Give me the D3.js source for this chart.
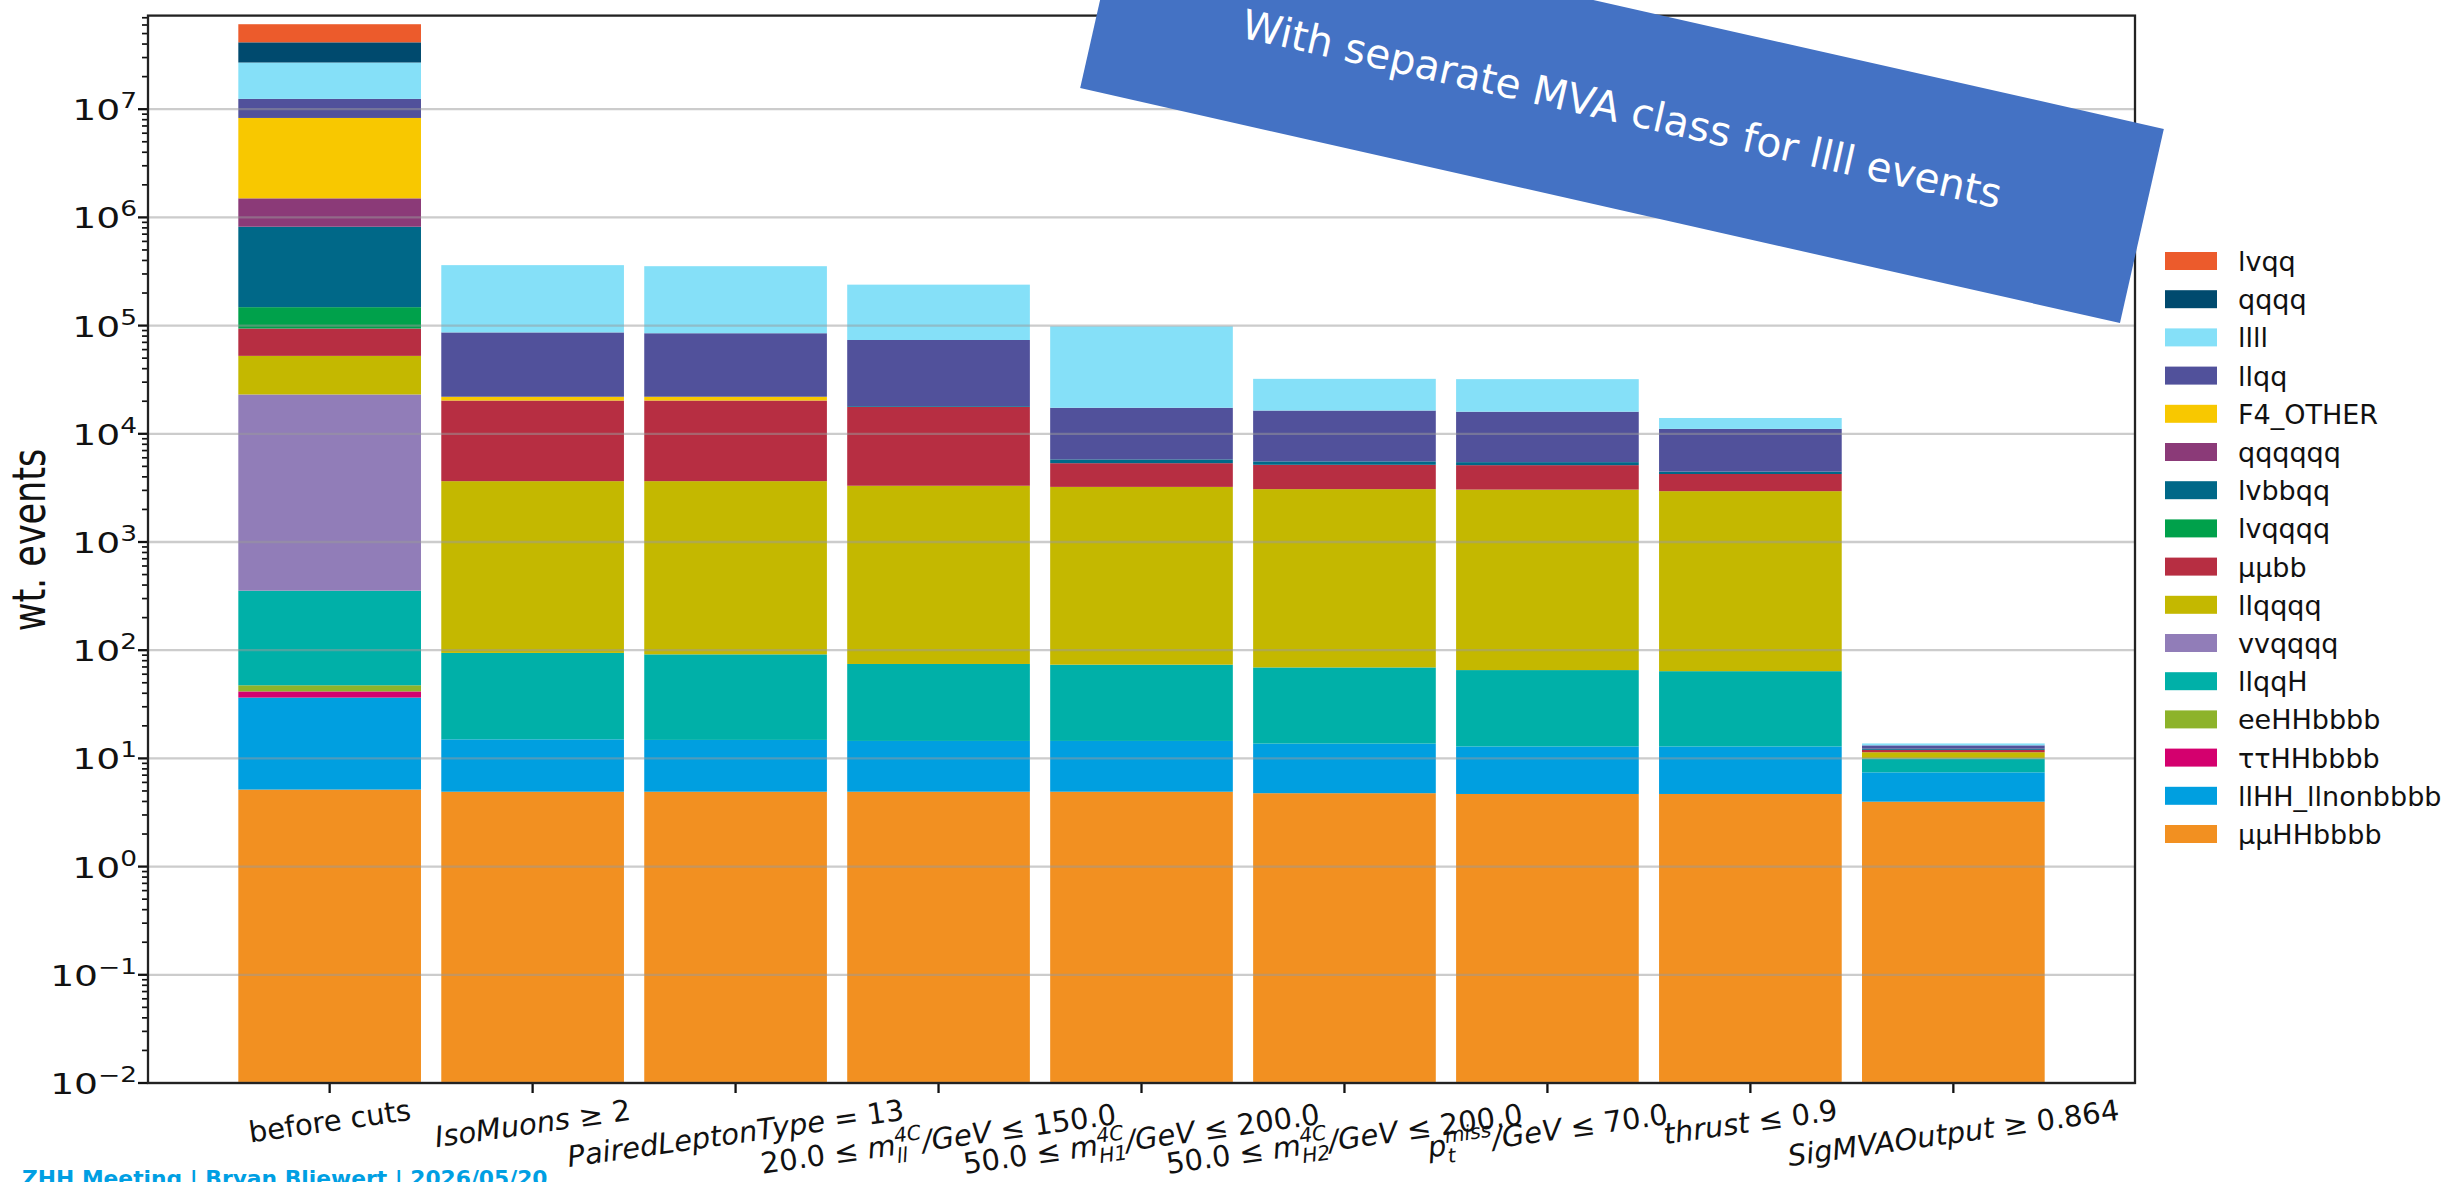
<!DOCTYPE html>
<html><head><meta charset="utf-8">
<script src="https://cdn.jsdelivr.net/npm/d3@7/dist/d3.min.js"></script>
<style>
html,body{margin:0;padding:0;background:#fff;overflow:hidden}
svg{display:block}
text{font-family:"DejaVu Sans",sans-serif;fill:#111}
</style></head><body>
<svg id="chart" width="2443" height="1182"></svg>
<script>
// ---------------- data ----------------
const categories = ["before cuts","IsoMuons ≥ 2","PairedLeptonType = 13","m_ll cut","m_H1 cut","m_H2 cut","pt_miss cut","thrust cut","SigMVAOutput cut"];
const tickLabels = [
  "before cuts",
  "{IsoMuons} ≥ 2",
  "{PairedLeptonType} = 13",
  "20.0 ≤ {m}_{ll}^{4C}{/GeV} ≤ 150.0",
  "50.0 ≤ {m}_{H1}^{4C}{/GeV} ≤ 200.0",
  "50.0 ≤ {m}_{H2}^{4C}{/GeV} ≤ 200.0",
  "{p}_{t}^{miss}{/GeV} ≤ 70.0",
  "{thrust} ≤ 0.9",
  "{SigMVAOutput} ≥ 0.864"
];
// stacking order: bottom -> top
const seriesNames  = ["μμHHbbbb","llHH_llnonbbbb","ττHHbbbb","eeHHbbbb","llqqH","vvqqqq","llqqqq","μμbb","lvqqqq","lvbbqq","qqqqqq","F4_OTHER","llqq","llll","qqqq","lvqq"];
const seriesColors = ["#f29021","#009fe0","#d4006e","#8db32a","#00b0a8","#917db8","#c4b800","#b72e42","#00a14b","#006888","#8b3a78","#f8c800","#51519b","#85e0f8","#004a6e","#ec5b2c"];

const mumuHHbbbb     = [5.15, 4.92, 4.92, 4.92, 4.92, 4.77, 4.69, 4.69, 3.98];
const llHH_llnonbbbb = [31.35, 10.08, 9.9, 9.58, 9.58, 8.93, 8.21, 8.21, 3.45];
const tautauHHbbbb   = [5.1, 0, 0, 0, 0, 0, 0, 0, 0];
const eeHHbbbb       = [5.8, 0, 0, 0, 0, 0, 0, 0, 0];
const llqqH          = [307.6, 79.4, 76.7, 60.1, 59, 55.6, 52.6, 51.1, 2.57];
const vvqqqq         = [22745, 0, 0, 0, 0, 0, 0, 0, 0];
const llqqqq         = [29400, 3556, 3560, 3235, 3157, 3011, 2985, 2886, 1.4];
const mumubb         = [41500, 16650, 16650, 14390, 2120, 2090, 2080, 1300, 0.6];
const lvqqqq         = [54000, 0, 0, 0, 0, 0, 0, 0, 0];
const lvbbqq         = [672000, 0, 0, 300, 450, 390, 340, 220, 0.3];
const qqqqqq         = [680000, 0, 0, 0, 0, 0, 0, 0, 0];
const F4_OTHER       = [6800000, 1700, 1700, 0, 0, 0, 0, 0, 0];
const llqq           = [4150000, 64500, 63000, 55600, 11600, 10840, 10530, 6630, 0.9];
const llll           = [14550000, 275500, 269000, 165400, 81000, 15800, 16000, 2900, 0.55];
const qqqq           = [14500000, 0, 0, 0, 0, 0, 0, 0, 0];
const lvqq           = [19500000, 0, 0, 0, 0, 0, 0, 0, 0];
const seriesValues = [mumuHHbbbb, llHH_llnonbbbb, tautauHHbbbb, eeHHbbbb, llqqH, vvqqqq, llqqqq, mumubb, lvqqqq, lvbbqq, qqqqqq, F4_OTHER, llqq, llll, qqqq, lvqq];
const yTickExponents = [-2,-1,0,1,2,3,4,5,6,7];
const yLabel = "wt. events";
const bannerText = "With separate MVA class for llll events";
const footerText = "ZHH Meeting | Bryan Bliewert | 2026/05/20";

// ---------------- layout ----------------
const L = 148, R = 2135, T = 15.6, B = 1083;
const FS = 29;
const svg = d3.select("#chart");

const x = d3.scaleBand().domain(d3.range(categories.length)).range([L, R]).paddingInner(0.1).paddingOuter(0.445);
const yMin = 1e-2, yMax = Math.pow(10, 7.865);
const y = d3.scaleLog().domain([yMin, yMax]).range([B, T]).clamp(true);

const table = categories.map((c, i) => {
  const o = {idx: i};
  seriesNames.forEach((s, k) => o[s] = seriesValues[k][i]);
  return o;
});
const stacked = d3.stack().keys(seriesNames)(table);
const color = d3.scaleOrdinal().domain(seriesNames).range(seriesColors);

// bars
const gBars = svg.append("g");
stacked.forEach(layer => {
  gBars.append("g").attr("fill", color(layer.key))
    .selectAll("rect").data(layer.filter(d => d[1] - d[0] > 0)).join("rect")
    .attr("x", d => x(d.data.idx))
    .attr("width", x.bandwidth())
    .attr("y", d => y(d[1]))
    .attr("height", d => y(Math.max(d[0], yMin)) - y(d[1]));
});

// grid (drawn over bars like the reference)
svg.append("g").selectAll("line").data(yTickExponents.map(e => Math.pow(10, e))).join("line")
  .attr("x1", L).attr("x2", R).attr("y1", d => y(d)).attr("y2", d => y(d))
  .attr("stroke", "#9a9a9a").attr("stroke-opacity", 0.5).attr("stroke-width", 2.3);

// y ticks (major + minor)
const allTicks = [];
for (let e = -2; e <= 7; e++) for (let m = 1; m <= 9; m++) { const v = m * Math.pow(10, e); if (v <= yMax) allTicks.push({v, major: m === 1}); }
svg.append("g").selectAll("line").data(allTicks).join("line")
  .attr("x1", d => L - (d.major ? 10 : 6)).attr("x2", L)
  .attr("y1", d => y(d.v)).attr("y2", d => y(d.v))
  .attr("stroke", "#111").attr("stroke-width", d => d.major ? 2.3 : 1.7);

// y tick labels (horizontally stretched like the reference)
const yl = svg.append("g").selectAll("text").data(yTickExponents).join("text")
  .attr("transform", d => `translate(${L - 11},${y(Math.pow(10, d)) + 11}) scale(1.3,1)`)
  .attr("text-anchor", "end").attr("font-size", FS);
yl.append("tspan").text("10");
yl.append("tspan").attr("font-size", FS * 0.7).attr("dy", -12).text(d => String(d).replace("-", "\u2212"));

// y axis label
svg.append("text").attr("transform", `translate(45,540) rotate(-90) scale(1,1.3)`)
  .attr("text-anchor", "middle").attr("font-size", 35).text(yLabel);

// x ticks
svg.append("g").selectAll("line").data(categories.map((c, i) => i)).join("line")
  .attr("x1", d => x(d) + x.bandwidth() / 2).attr("x2", d => x(d) + x.bandwidth() / 2)
  .attr("y1", B).attr("y2", B + 10).attr("stroke", "#111").attr("stroke-width", 2.3);

// x tick labels (mathtext-like)
function parseLabel(s) {
  const out = []; let i = 0, buf = "";
  const flush = () => { if (buf) { out.push({t: buf, it: false, k: "n"}); buf = ""; } };
  while (i < s.length) {
    const c = s[i];
    if ((c === "_" || c === "^") && s[i + 1] === "{") {
      flush(); const j = s.indexOf("}", i); out.push({t: s.slice(i + 2, j), it: true, k: c === "_" ? "sub" : "sup"}); i = j + 1;
    } else if (c === "{") {
      flush(); const j = s.indexOf("}", i); out.push({t: s.slice(i + 1, j), it: true, k: "n"}); i = j + 1;
    } else { buf += c; i++; }
  }
  flush(); return out;
}
const gx = svg.append("g");
tickLabels.forEach((lab, i) => {
  const cx = x(i) + x.bandwidth() / 2;
  const g = gx.append("g");
  const t = g.append("text").attr("font-size", FS).attr("x", 0).attr("y", 0);
  const toks = parseLabel(lab);
  let k = 0, pendDy = 0, pendDx = 0;
  while (k < toks.length) {
    const tk = toks[k];
    if (tk.k === "n") {
      t.append("tspan").attr("dx", pendDx).attr("dy", pendDy).attr("font-style", tk.it ? "italic" : "normal").text(tk.t.replace(/ /g, "\u00a0"));
      pendDy = 0; pendDx = 0; k++;
    } else {
      const sub = tk.k === "sub" ? tk : (toks[k + 1] && toks[k + 1].k === "sub" ? toks[k + 1] : null);
      const sup = tk.k === "sup" ? tk : (toks[k + 1] && toks[k + 1].k === "sup" ? toks[k + 1] : null);
      const down = FS * 0.28, up = FS * 0.42;
      let cur = 0, wSub = 0, wSup = 0;
      if (sub) {
        const ts = t.append("tspan").attr("dy", down).attr("font-size", FS * 0.7).attr("font-style", "italic").text(sub.t);
        wSub = ts.node().getComputedTextLength(); cur = down;
      }
      if (sup) {
        const ts = t.append("tspan").attr("dx", -wSub).attr("dy", -cur - up).attr("font-size", FS * 0.7).attr("font-style", "italic").text(sup.t);
        wSup = ts.node().getComputedTextLength(); cur = -up;
      }
      pendDx = Math.max(wSub, wSup) - (sup ? wSup : wSub);
      pendDy = -cur;
      k += (sub && sup) ? 2 : 1;
    }
  }
  t.attr("transform", "rotate(-8)").attr("text-anchor", "middle");
  const bb = g.node().getBBox();
  // emulate matplotlib: center horizontally, top of rotated bbox below tick
  g.attr("transform", `translate(${cx - (bb.x + bb.width / 2)},${B + 10 - bb.y})`);
});

// frame
svg.append("rect").attr("x", L).attr("y", T).attr("width", R - L).attr("height", B - T)
  .attr("fill", "none").attr("stroke", "#222").attr("stroke-width", 2.3);

// legend
const legendItems = seriesNames.slice().reverse();
const lg = svg.append("g").selectAll("g").data(legendItems).join("g")
  .attr("transform", (d, i) => `translate(2165,${261 + i * 38.2})`);
lg.append("rect").attr("x", 0).attr("y", -9).attr("width", 52).attr("height", 18).attr("fill", d => color(d));
lg.append("text").attr("x", 73).attr("y", 10).attr("font-size", 27).text(d => d);

// banner
const bg = svg.append("g").attr("transform", "translate(1622,108.5) rotate(12.73)");
bg.append("rect").attr("x", -533).attr("y", -99.5).attr("width", 1066).attr("height", 199).attr("fill", "#4472c4");
const bt = bg.append("text").attr("text-anchor", "middle").attr("font-family", "Roboto, sans-serif")
  .attr("font-size", 44).style("fill", "#fff").text(bannerText);
const bw = bt.node().getComputedTextLength();
const bfs = 44 * 778 / bw;
bt.attr("font-size", bfs).attr("y", bfs * 0.36);

// footer
const ft = svg.append("text").attr("x", 22).attr("font-family", "Liberation Sans, Arial, sans-serif")
  .attr("font-weight", "bold").attr("font-size", 30).style("fill", "#009fe3").text(footerText);
const fw = ft.node().getComputedTextLength();
const ffs = 30 * 526 / fw;
ft.attr("font-size", ffs).attr("y", 1170 + ffs * 0.72);
</script>
</body></html>
